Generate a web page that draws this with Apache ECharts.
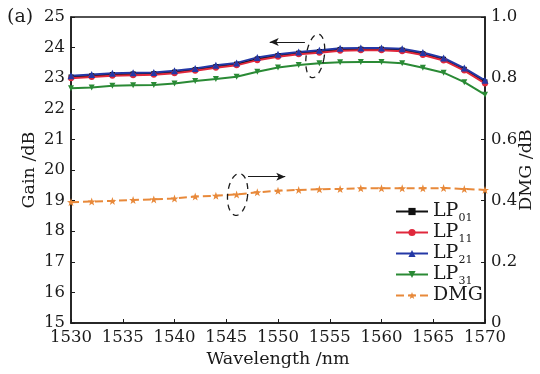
<!DOCTYPE html>
<html>
<head>
<meta charset="utf-8">
<script src="https://cdn.jsdelivr.net/npm/echarts@6/dist/echarts.min.js"></script>
<style>
  html, body { margin: 0; padding: 0; background: #fff; }
  #chart { width: 540px; height: 374px; }
</style>
</head>
<body>
<div id="chart"></div>
<script>
// Wavelength samples (nm)
const wavelengths = [1530, 1532, 1534, 1536, 1538, 1540, 1542, 1544, 1546, 1548, 1550,
                     1552, 1554, 1556, 1558, 1560, 1562, 1564, 1566, 1568, 1570];

// Modal gain (dB)
const gainLP01 = [23.04, 23.08, 23.12, 23.14, 23.15, 23.20, 23.28, 23.38, 23.46, 23.63, 23.74,
                  23.82, 23.87, 23.94, 23.95, 23.95, 23.92, 23.80, 23.62, 23.29, 22.88];
const gainLP11 = [23.00, 23.04, 23.08, 23.10, 23.11, 23.16, 23.24, 23.34, 23.42, 23.59, 23.70,
                  23.78, 23.83, 23.90, 23.91, 23.91, 23.88, 23.76, 23.58, 23.25, 22.83];
const gainLP21 = [23.08, 23.12, 23.16, 23.18, 23.19, 23.24, 23.32, 23.42, 23.50, 23.68, 23.78,
                  23.86, 23.91, 23.98, 23.99, 23.99, 23.96, 23.84, 23.66, 23.33, 22.93];
const gainLP31 = [22.67, 22.70, 22.75, 22.77, 22.78, 22.83, 22.91, 22.97, 23.05, 23.21, 23.35,
                  23.43, 23.49, 23.52, 23.53, 23.53, 23.49, 23.34, 23.18, 22.87, 22.46];

// Differential modal gain (dB)
const dmg = [0.395, 0.397, 0.399, 0.402, 0.404, 0.407, 0.413, 0.416, 0.420, 0.427, 0.432,
             0.435, 0.437, 0.438, 0.440, 0.440, 0.440, 0.440, 0.441, 0.438, 0.435];

// Legend entries
const legendNames = ['LP01', 'LP11', 'LP21', 'LP31', 'DMG'];

const FONT = 'DejaVu Serif';
const INK = '#1a1a1a';

// five-pointed star marker
function starPath() {
  const pts = [];
  for (let i = 0; i < 10; i++) {
    const r = i % 2 === 0 ? 50 : 20;
    const a = -Math.PI / 2 + i * Math.PI / 5;
    pts.push((50 + r * Math.cos(a)).toFixed(1) + ',' + (50 + r * Math.sin(a)).toFixed(1));
  }
  return 'path://M' + pts.join('L') + 'Z';
}

function pairs(ys) { return wavelengths.map((x, i) => [x, ys[i]]); }

function gainSeries(name, ys, color, symbol, rotate, size) {
  return {
    name: name, type: 'line', yAxisIndex: 0,
    data: pairs(ys),
    symbol: symbol, symbolSize: size, symbolRotate: rotate || 0,
    showAllSymbol: true,
    lineStyle: { color: color, width: 2 },
    itemStyle: { color: color },
    emphasis: { disabled: true },
    animation: false
  };
}

const chart = echarts.init(document.getElementById('chart'), null, { renderer: 'canvas' });

const arrowLine = {
  silent: true, symbol: ['none', 'arrow'], symbolSize: [6, 9],
  label: { show: false },
  lineStyle: { color: INK, type: 'solid', width: 1.2 }
};

const option = {
  backgroundColor: '#fff',
  animation: false,
  textStyle: { fontFamily: FONT, color: INK },
  grid: {
    left: 71, right: 55, top: 17, bottom: 51,
    containLabel: false, outerBoundsMode: 'none',
    show: true, borderColor: INK, borderWidth: 1.5
  },
  legend: {
    orient: 'vertical', left: 390, top: 197,
    data: legendNames,
    itemWidth: 32, itemHeight: 9, itemGap: -1,
    textStyle: {
      fontFamily: FONT, fontSize: 19, color: INK,
      rich: {
        m: { fontFamily: FONT, fontSize: 19, color: INK, height: 20 },
        s: { fontFamily: FONT, fontSize: 11, color: INK, padding: [14, 0, 0, 0], height: 12 }
      }
    },
    formatter: function (n) {
      return n === 'DMG' ? '{m|DMG}' : '{m|LP}{s|' + n.slice(2) + '}';
    }
  },
  xAxis: {
    type: 'value', min: 1530, max: 1570, interval: 5,
    name: 'Wavelength /nm', nameLocation: 'middle', nameGap: 26,
    nameTextStyle: { fontFamily: FONT, fontSize: 17.5, color: INK },
    axisLine: { lineStyle: { color: INK, width: 1.5 } },
    axisTick: { inside: true, length: 4, lineStyle: { color: INK } },
    axisLabel: { fontFamily: FONT, fontSize: 16.5, color: INK, margin: 6, formatter: v => String(v) },
    splitLine: { show: false }
  },
  yAxis: [
    {
      type: 'value', min: 15, max: 25, interval: 1,
      name: 'Gain /dB', nameLocation: 'middle', nameGap: 33, nameRotate: 90, nameMoveOverlap: false,
      nameTextStyle: { fontFamily: FONT, fontSize: 17.5, color: INK },
      axisLine: { show: true, lineStyle: { color: INK, width: 1.5 } },
      axisTick: { inside: true, length: 4, lineStyle: { color: INK } },
      axisLabel: { fontFamily: FONT, fontSize: 16.5, color: INK, margin: 6 },
      splitLine: { show: false }
    },
    {
      type: 'value', min: 0, max: 1, interval: 0.2, position: 'right',
      name: 'DMG /dB', nameLocation: 'middle', nameGap: 32, nameRotate: 90, nameMoveOverlap: false,
      nameTextStyle: { fontFamily: FONT, fontSize: 17.5, color: INK },
      axisLine: { show: true, lineStyle: { color: INK, width: 1.5 } },
      axisTick: { inside: true, length: 4, lineStyle: { color: INK } },
      axisLabel: {
        fontFamily: FONT, fontSize: 16.5, color: INK, margin: 6,
        formatter: v => (v === 0 ? '0' : v.toFixed(1))
      },
      splitLine: { show: false }
    }
  ],
  series: [
    gainSeries('LP31', gainLP31, '#2a8a35', 'triangle', 180, 6),
    gainSeries('LP01', gainLP01, '#111111', 'rect', 0, 5),
    gainSeries('LP11', gainLP11, '#e0283c', 'circle', 0, 6),
    Object.assign(gainSeries('LP21', gainLP21, '#2438a6', 'triangle', 0, 7), {
      // arrow pointing toward the gain axis
      markLine: Object.assign({
        data: [[{ coord: [1552.6, 24.18] }, { coord: [1549.2, 24.18] }]]
      }, arrowLine)
    }),
    {
      name: 'DMG', type: 'line', yAxisIndex: 1,
      data: pairs(dmg),
      symbol: starPath(), symbolSize: 8, showAllSymbol: true,
      lineStyle: { color: '#e8893a', width: 2, type: [8, 4] },
      itemStyle: { color: '#e8893a' },
      emphasis: { disabled: true },
      animation: false,
      // arrow pointing toward the DMG axis
      markLine: Object.assign({
        data: [[{ coord: [1547.1, 0.478] }, { coord: [1550.7, 0.478] }]]
      }, arrowLine)
    }
  ]
};

chart.setOption(option);

// dashed ellipse outline around a data location, tilted by rot (radians)
function ellipseAt(xv, yv, axisIdx, rx, ry, rot) {
  const c = chart.convertToPixel({ xAxisIndex: 0, yAxisIndex: axisIdx }, [xv, yv]);
  const pts = [];
  const n = 60;
  for (let i = 0; i < n; i++) {
    const t = (i / n) * Math.PI * 2;
    const ex = rx * Math.cos(t), ey = ry * Math.sin(t);
    pts.push([c[0] + ex * Math.cos(rot) - ey * Math.sin(rot),
              c[1] + ex * Math.sin(rot) + ey * Math.cos(rot)]);
  }
  return {
    type: 'polygon', shape: { points: pts },
    style: { fill: 'none', stroke: INK, lineWidth: 1.3, lineDash: [6, 5] },
    silent: true, z: 10
  };
}

chart.setOption({
  graphic: [
    { type: 'text', left: 7, top: 8, style: { text: '(a)', fontFamily: FONT, fontSize: 19, fill: INK } },
    ellipseAt(1553.6, 23.73, 0, 9, 22, 0.15),
    ellipseAt(1546.1, 0.42, 1, 10, 21, 0.1)
  ]
});
</script>
</body>
</html>
